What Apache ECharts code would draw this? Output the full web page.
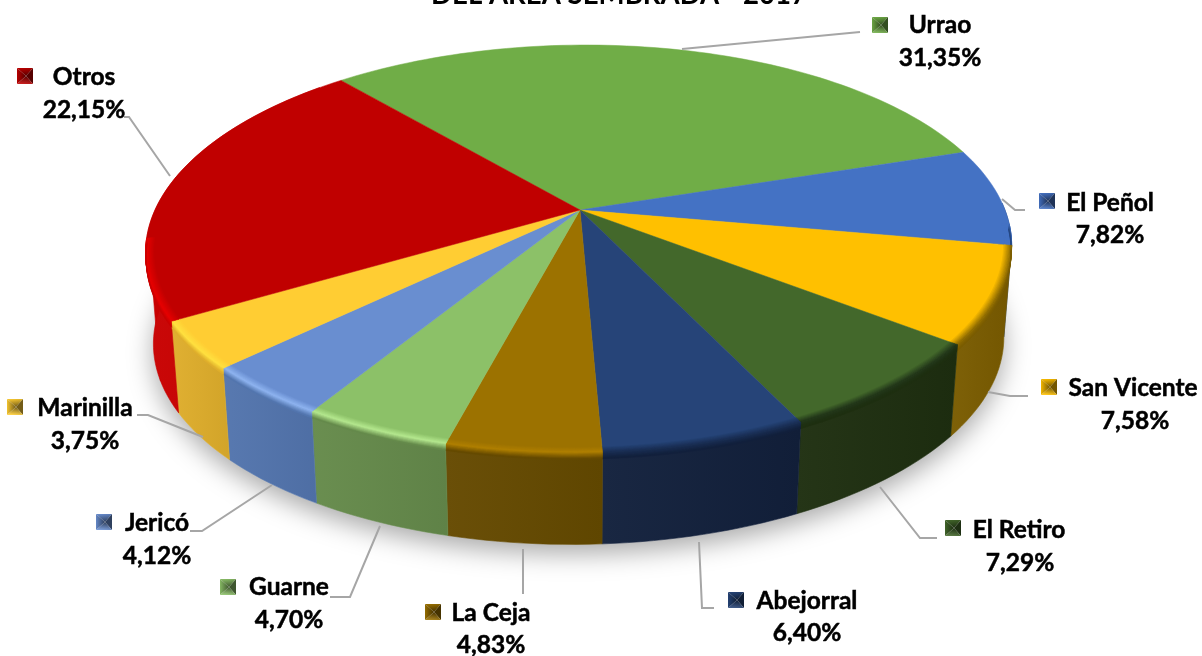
<!DOCTYPE html>
<html><head><meta charset="utf-8">
<style>html,body{margin:0;padding:0;background:#fff}#c{width:1202px;height:656px}</style>
<script src="https://cdn.jsdelivr.net/npm/echarts@6/dist/echarts.min.js"></script>
</head><body><div id="c"></div>
<script>
// ---- data ----
const categories = ['Urrao','El Peñol','San Vicente','El Retiro','Abejorral','La Ceja','Guarne','Jericó','Marinilla','Otros'];
const shares = [31.35,7.82,7.58,7.29,6.40,4.83,4.70,4.12,3.75,22.15];
const titleText = 'DEL ÁREA SEMBRADA - 2017';
// ---- styles ----
const topColors  = ['#70AD47','#4472C4','#FFC000','#43682B','#264478','#9C7200','#8CC168','#698ED0','#FFCD33','#C00000'];
const wallColors = ['#4A7A2E','#24457F','#7A5C00','#1E2F10','#12203C','#654A00','#658A4B','#5375AE','#DFAE2C','#C80000'];
const rimColors  = ['#70AD47','#4472C4','#8F6C00','#22361A','#1A2F55','#B08000','#B5E88F','#8FB4F0','#FFE040','#E60000'];
// ---- layout ----
const labelFont = '"Lato","Carlito",sans-serif';
const geo = {cx:580, cy:210, a:425, b:196.5, k:0.191, skew:-7, depth:91.5, bottomScale:0.982, startDeg:-131};
const labelPos = [
 {key:[880,25], name:[940,25], pct:[940,58], line:[[682,49],[860,32]]},
 {key:[1047,201], name:[1110,203], pct:[1110,235], line:[[1002,199],[1015,210],[1025,210]]},
 {key:[1049,387], name:[1133,388], pct:[1135,421], line:[[988,392],[1010,396],[1028,396]]},
 {key:[953,528], name:[1019,530], pct:[1020,563], line:[[880,487],[920,538],[937,538]]},
 {key:[736,600], name:[807,601], pct:[807,633], line:[[699,542],[702,608],[714,608]]},
 {key:[433,612], name:[491,613], pct:[491,645], line:[[523,549],[523,594]]},
 {key:[228,587], name:[289,587], pct:[289,620], line:[[380,526],[350,597],[330,597]]},
 {key:[104,522], name:[157,523], pct:[157,556], line:[[272,485],[202,531],[190,531]]},
 {key:[15,407], name:[85,408], pct:[85,441], line:[[203,437],[148,415],[137,415]]},
 {key:[25,76], name:[84,77], pct:[84,110], line:[[170,176],[129,117],[124,117]]}
];

const total = shares.reduce((s,v)=>s+v,0);
const rad = d => d*Math.PI/180;
function sliceRange(i){
  let before = 0; for(let j=0;j<i;j++) before += shares[j];
  const s = geo.startDeg + before/total*360;
  return [s, s + shares[i]/total*360];
}
// projects a point of the disc: angle in degrees, r in 0..1, h = height drop 0..1
function proj(deg,r,h){
  const u=r*Math.cos(rad(deg)), v=r*Math.sin(rad(deg)), w=1-geo.k*v;
  const sc = 1-(1-geo.bottomScale)*h;
  return [geo.cx + sc*(geo.a*u/w + geo.skew*v/w), geo.cy + geo.b*v/w + h*geo.depth];
}
function arc(s,e,r,h){
  const n=Math.max(2,Math.ceil((e-s)/1.5)), p=[];
  for(let i=0;i<=n;i++) p.push(proj(s+(e-s)*i/n,r,h));
  return p;
}
const mix = (c1,c2,t) => echarts.color.lerp(t,[c1,c2]);

function band(s,e,r1,h1,r2,h2,color){
  const pts = arc(s,e,r1,h1).concat(arc(s,e,r2,h2).reverse());
  return {type:'polygon',shape:{points:pts},style:{fill:color,stroke:color,lineWidth:0.6}};
}
function renderShadow(){
  const pts=arc(0,360,1,1);
  return {type:'polygon',shape:{points:pts},style:{fill:'#ddd',shadowBlur:26,shadowColor:'rgba(0,0,0,0.34)',shadowOffsetY:9}};
}
function renderWall(params,api){
  const i=params.dataIndex, [s0,e0]=sliceRange(i);
  const s=Math.max(s0,-2), e=Math.min(e0,225);
  if(e<=s) return {type:'group',children:[]};
  const wc=wallColors[i];
  const b=band(s,e,1,0,1,1,wc);
  b.style.fill={type:'linear',x:0,y:0,x2:1,y2:0,colorStops:[
    {offset:0,color:mix(wc,'#ffffff',0.03)},
    {offset:1,color:mix(wc,'#000000',0.06)}]};
  const children=[b];
  // silhouette between the rim's widest point and the lower disc on the far side
  if(s<180 && e>190){
    const a=proj(190,1,0), c=proj(Math.max(s,158),1,1), d=proj(Math.max(s,158),1,0);
    children.unshift({type:'polygon',shape:{points:[a,c,d]},style:{fill:wc,stroke:wc,lineWidth:0.6}});
  }
  return {type:'group',children};
}
function renderTop(params,api){
  const i=params.dataIndex, [s,e]=sliceRange(i);
  const pts=[proj(0,0,0)].concat(arc(s,e,1,0));
  return {type:'polygon',shape:{points:pts},style:{fill:topColors[i],stroke:topColors[i],lineWidth:0.5}};
}
function renderBevel(params,api){
  const i=params.dataIndex, [s0,e0]=sliceRange(i);
  const s=Math.max(s0,4), e=Math.min(e0,172);
  if(e<=s) return {type:'group',children:[]};
  const ch=[], N1=6, N2=6;
  for(let t=0;t<N1;t++){
    const r1=1-0.018*(1-t/N1), r2=1-0.018*(1-(t+1)/N1);
    ch.push(band(s,e,r1,0,r2,0,mix(topColors[i],rimColors[i],(t+1)/N1)));
  }
  for(let t=0;t<N2;t++){
    const h1=0.07*t/N2, h2=0.07*(t+1)/N2;
    ch.push(band(s,e,1,h1,1,h2,mix(rimColors[i],wallColors[i],(t+1)/N2)));
  }
  return {type:'group',children:ch};
}
function keyMark(c,color){
  const x=c[0], y=c[1], h=8, m=[x+1,y];
  const tl=[x-h,y-h], tr=[x+h,y-h], br=[x+h,y+h], bl=[x-h,y+h];
  const dark=mix(color,'#000000',0.55), mid=mix(color,'#000000',0.05), lite=mix(color,'#ffffff',0.12);
  const tri=(a,b,from)=>({type:'polygon',shape:{points:[a,b,m]},style:{
    fill:{type:'linear',x:(a[0]+b[0])/2,y:(a[1]+b[1])/2,x2:m[0],y2:m[1],global:true,colorStops:[{offset:0,color:from},{offset:1,color:dark}]}}});
  return [tri(tl,tr,mid),tri(tl,bl,mid),tri(tr,br,dark),tri(bl,br,lite)];
}
function renderLabel(params,api){
  const i=params.dataIndex, L=labelPos[i], v=api.value(0);
  const txt=(p,t)=>({type:'text',style:{x:p[0],y:p[1],text:t,fill:'#000',stroke:'#000',lineWidth:0.5,align:'center',verticalAlign:'middle',
    font:'bold 24.5px '+labelFont}});
  return {type:'group',children:[
    {type:'polyline',shape:{points:L.line},style:{stroke:'#A6A6A6',lineWidth:2,fill:'none'}},
    ...keyMark(L.key,topColors[i]),
    txt(L.name,categories[i]),
    txt(L.pct,v.toFixed(2).replace('.',',')+'%')
  ]};
}
const base = {type:'custom',coordinateSystem:'none',data:shares.map(v=>[v]),silent:true,animation:false,clip:false};
const chart = echarts.init(document.getElementById('c'),null,{renderer:'canvas'});
chart.setOption({
  animation:false,
  backgroundColor:'#fff',
  title:{text:titleText,left:614,top:-24,textAlign:'center',textStyle:{fontFamily:labelFont,fontWeight:'bold',fontSize:27.6,color:'#000'}},
  series:[
    {...base,data:[[1]],z:1,renderItem:renderShadow},
    {...base,z:2,renderItem:renderWall},
    {...base,z:3,renderItem:renderTop},
    {...base,z:4,renderItem:renderBevel},
    {...base,z:5,renderItem:renderLabel}
  ]
});
</script></body></html>
